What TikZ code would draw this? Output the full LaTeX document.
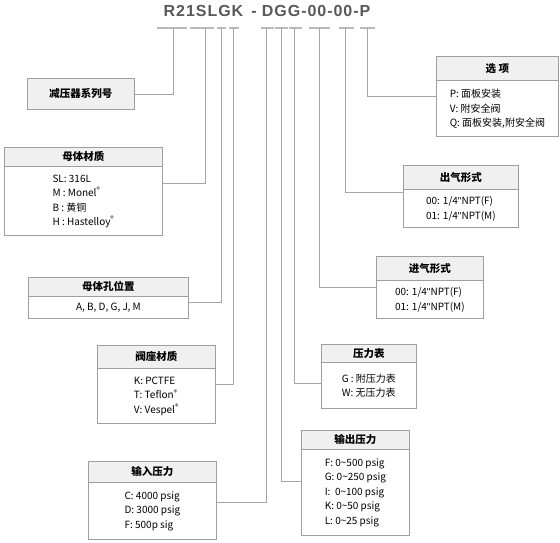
\documentclass[tikz,border=0pt]{standalone}
\usepackage{fontspec}
\setmainfont{Noto Sans CJK SC}
\newfontfamily\titlefont[LetterSpace=6]{Liberation Sans}
\newfontfamily\latinfont{Liberation Sans}
\newcommand{\inch}{{\latinfont"}}
\usetikzlibrary{positioning, calc}

\begin{document}
\begin{tikzpicture}[
    x=1pt, y=-1pt,
    frame/.style={draw=gray!75, line width=0.8pt, fill=white, inner sep=0pt},
    head/.style={draw=gray!75, line width=0.8pt, fill=gray!12, inner sep=0pt, font=\fontsize{10.5}{12}\selectfont\bfseries},
    items/.style={align=left, inner sep=0pt, font=\fontsize{10}{14.5}\selectfont},
    tick/.style={draw=gray!55, line width=1.6pt},
    link/.style={draw=gray!70, line width=0.7pt}
]
\useasboundingbox (0,0) rectangle (560,542);

% ----------------- 型号代码 -----------------
\node[font=\titlefont\bfseries\fontsize{16}{18}\selectfont, text=black!65] (code) at (267,11) {R21SLGK\hspace{8pt}- DGG-00-00-P};

% 代码下方的短横线 (每段一个接线点)
\foreach \i/\a/\b/\m in {1/157/187/173, 2/190/214/205, 3/217/226/221, 4/229/239/233, 5/261/274/266,
                         6/275/288/281, 7/289/302/294, 8/309/330/319, 9/339/354/345, 10/360/375/367} {
    \draw[tick] (\a,28) -- (\b,28);
    \coordinate (bar\i) at (\m,28);
}

% ----------------- 左侧说明框 -----------------
\node[frame, fill=gray!12, minimum width=107, minimum height=31, anchor=north west,
      font=\fontsize{10.5}{12}\selectfont\bfseries] (seriesBox) at (27,78) {减压器系列号};

\node[frame, minimum width=158, minimum height=88, anchor=north west] (matBox) at (4,147) {};
\node[head, minimum width=158, minimum height=19, anchor=north] (matHead) at (matBox.north) {母体材质};
\node[items] (matItems) at ($(matHead.south)!0.5!(matBox.south)$)
    {SL: 316L\\M : Monel\textsuperscript{®}\\B : 黄铜\\H : Hastelloy\textsuperscript{®}};

\node[frame, minimum width=160, minimum height=41, anchor=north west] (holeBox) at (28,277) {};
\node[head, minimum width=160, minimum height=19, anchor=north] (holeHead) at (holeBox.north) {母体孔位置};
\node[items] (holeItems) at ($(holeHead.south)!0.5!(holeBox.south)$) {A, B, D, G, J, M};

\node[frame, minimum width=118, minimum height=78, anchor=north west] (seatBox) at (97,345) {};
\node[head, minimum width=118, minimum height=23, anchor=north] (seatHead) at (seatBox.north) {阀座材质};
\node[items] (seatItems) at ($(seatHead.south)!0.5!(seatBox.south)$)
    {K: PCTFE\\T: Teflon\textsuperscript{®}\\V: Vespel\textsuperscript{®}};

\node[frame, minimum width=128, minimum height=78, anchor=north west] (inBox) at (88,461) {};
\node[head, minimum width=128, minimum height=21, anchor=north] (inHead) at (inBox.north) {输入压力};
\node[items] (inItems) at ($(inHead.south)!0.5!(inBox.south)$)
    {C: 4000 psig\\D: 3000 psig\\F: 500p sig};

% ----------------- 右侧说明框 -----------------
\node[frame, minimum width=122, minimum height=80, anchor=north west] (optBox) at (436,56) {};
\node[head, minimum width=122, minimum height=24, anchor=north] (optHead) at (optBox.north) {选\ 项};
\node[items] (optItems) at ($(optHead.south)!0.5!(optBox.south)$)
    {P: 面板安装\\V: 附安全阀\\Q: 面板安装,附安全阀};

\node[frame, minimum width=115, minimum height=62, anchor=north west] (outletBox) at (403,165) {};
\node[head, minimum width=115, minimum height=24, anchor=north] (outletHead) at (outletBox.north) {出气形式};
\node[items] (outletItems) at ($(outletHead.south)!0.5!(outletBox.south)$)
    {00: 1/4\inch NPT(F)\\01: 1/4\inch NPT(M)};

\node[frame, minimum width=107, minimum height=62, anchor=north west] (inletBox) at (376,256) {};
\node[head, minimum width=107, minimum height=24, anchor=north] (inletHead) at (inletBox.north) {进气形式};
\node[items] (inletItems) at ($(inletHead.south)!0.5!(inletBox.south)$)
    {00: 1/4\inch NPT(F)\\01: 1/4\inch NPT(M)};

\node[frame, minimum width=95, minimum height=64, anchor=north west] (gaugeBox) at (321,344) {};
\node[head, minimum width=95, minimum height=18, anchor=north] (gaugeHead) at (gaugeBox.north) {压力表};
\node[items] (gaugeItems) at ($(gaugeHead.south)!0.5!(gaugeBox.south)$)
    {G : 附压力表\\W: 无压力表};

\node[frame, minimum width=108, minimum height=105, anchor=north west] (outBox) at (301,430) {};
\node[head, minimum width=108, minimum height=19, anchor=north] (outHead) at (outBox.north) {输出压力};
\node[items] (outItems) at ($(outHead.south)!0.5!(outBox.south)$)
    {F: 0\textasciitilde500 psig\\G: 0\textasciitilde250 psig\\I:\ \ 0\textasciitilde100 psig\\K: 0\textasciitilde50 psig\\L: 0\textasciitilde25 psig};

% ----------------- 连线 -----------------
\draw[link] (seriesBox.east)          -| (bar1);
\draw[link] ([yshift=8]matBox.east)   -| (bar2);
\draw[link] ([yshift=-4]holeBox.east) -| (bar3);
\draw[link] (seatBox.east)            -| (bar4);
\draw[link] ([yshift=-2]inBox.east)   -| (bar5);
\draw[link] ([yshift=2]outBox.west)   -| (bar6);
\draw[link] ([yshift=-7]gaugeBox.west) -| (bar7);
\draw[link] (inletBox.west)           -| (bar8);
\draw[link] ([yshift=4]outletBox.west) -| (bar9);
\draw[link] (optBox.west)             -| (bar10);

\end{tikzpicture}
\end{document}
